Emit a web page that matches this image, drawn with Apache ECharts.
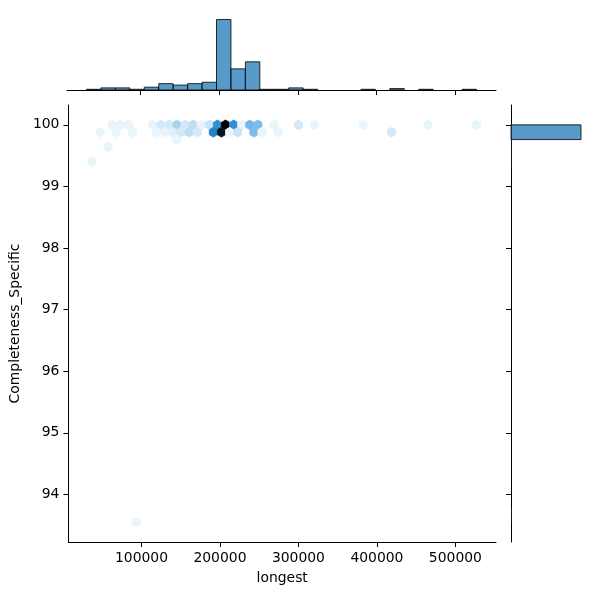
<!DOCTYPE html>
<html><head><meta charset="utf-8">
<script src="https://cdn.jsdelivr.net/npm/echarts@6/dist/echarts.min.js"></script>
<style>html,body{margin:0;padding:0;background:#fff}#c{width:600px;height:600px}</style>
</head><body><div id="c"></div>
<script>
// Hexbin cells (bin centres) and counts
const hexX = [62610, 72930, 83250, 114210, 124530, 134850, 145170, 155490, 165810, 176130, 186450, 196770, 207090, 217410, 227730, 238050, 248370, 269010, 299970, 320610, 382530, 465090, 527000,
  47130, 67770, 88410, 119370, 129690, 140010, 150330, 160650, 170970, 191610, 201930, 212250, 222570, 243210, 253530, 274170, 418650,
  145170, 57450, 36810, 93570];
const hexY = [100, 100, 100, 100, 100, 100, 100, 100, 100, 100, 100, 100, 100, 100, 100, 100, 100, 100, 100, 100, 100, 100, 100,
  99.881, 99.881, 99.881, 99.881, 99.881, 99.881, 99.881, 99.881, 99.881, 99.881, 99.881, 99.881, 99.881, 99.881, 99.881, 99.881, 99.881,
  99.761, 99.642, 99.403, 93.55];
const hexCount = [2, 2, 2, 2, 4, 4, 8, 4, 6, 2, 5, 20, 40, 20, 2, 13, 12, 2, 4, 2, 2, 2, 2,
  2, 2, 2, 2, 2, 3, 4, 6, 4, 22, 37, 2, 5, 12, 2, 2, 4,
  2, 2, 2, 2];

// Marginal histogram of "longest"
const xHistEdges = [31650, 49996, 68343, 86689, 105035, 123382, 141728, 160074, 178421, 196767, 215113, 233460, 251806, 270152, 288499, 306845, 325191, 343538, 361884, 380230, 398577, 416923, 435269, 453616, 471962, 490308, 508655, 527000];
const xHistCounts = [1, 3, 3, 1, 4, 9, 7, 9, 11, 100, 30, 40, 1, 1, 3, 1, 0, 0, 0, 1, 0, 2, 0, 1, 0, 0, 1];

// Marginal histogram of "Completeness_Specific"
const yHistEdges = [93.550, 93.789, 94.028, 94.267, 94.506, 94.744, 94.983, 95.222, 95.461, 95.700, 95.939, 96.178, 96.417, 96.656, 96.894, 97.133, 97.372, 97.611, 97.850, 98.089, 98.328, 98.567, 98.806, 99.044, 99.283, 99.522, 99.761, 100.000];
const yHistCounts = [1, 0, 0, 0, 0, 0, 0, 0, 0, 0, 0, 0, 0, 0, 0, 0, 0, 0, 0, 0, 0, 0, 0, 0, 1, 1, 226];

const xTicks = [100000, 200000, 300000, 400000, 500000];
const yTicks = [94, 95, 96, 97, 98, 99, 100];

const HEX_SX = 10320, HEX_SY = 0.23889;
const FONT = 'DejaVu Sans';
const hexColors = ['#ffffff', '#d7ebf8', '#b0d7f1', '#88c2eb', '#61aee4', '#399add', '#2283c6', '#1b699e', '#144e77', '#0e344f', '#071a28', '#000000'];

const hexData = hexX.map((x, i) => [x, hexY[i], hexCount[i]]);
const xHistData = xHistCounts.map((c, i) => [xHistEdges[i], xHistEdges[i + 1], c]).filter(d => d[2] > 0);
const yHistData = yHistCounts.map((c, i) => [yHistEdges[i], yHistEdges[i + 1], c]).filter(d => d[2] > 0);

const XMIN = 6882.5, XMAX = 551767.5, YMIN = 93.2275, YMAX = 100.3225;
const lineStyle = { color: '#000', width: 1 };
const barFill = 'rgba(31,119,180,0.75)', barEdge = 'rgba(0,0,0,0.8)';

const chart = echarts.init(document.getElementById('c'), null, { renderer: 'canvas' });
chart.setOption({
  animation: false,
  backgroundColor: '#fff',
  textStyle: { fontFamily: FONT },
  grid: [
    { left: 67, top: 105, width: 429, height: 437 },
    { left: 67, top: 16, width: 429, height: 74 },
    { left: 511, top: 105, width: 73.5, height: 437 }
  ],
  xAxis: [
    { type: 'value', gridIndex: 0, min: XMIN, max: XMAX, name: 'longest', nameLocation: 'middle', nameGap: 29,
      nameTextStyle: { fontFamily: FONT, fontSize: 13.9, color: '#000' },
      axisLine: { show: true, onZero: false, lineStyle },
      axisTick: { show: true, length: 5, inside: false, customValues: xTicks, lineStyle },
      axisLabel: { show: true, margin: 9, customValues: xTicks, fontFamily: FONT, fontSize: 13.9, color: '#000', formatter: v => String(v) },
      splitLine: { show: false } },
    { type: 'value', gridIndex: 1, min: XMIN, max: XMAX, position: 'bottom',
      axisLine: { show: true, onZero: false, lineStyle },
      axisTick: { show: true, length: 5, inside: false, customValues: xTicks, lineStyle },
      axisLabel: { show: false }, splitLine: { show: false } },
    { type: 'value', gridIndex: 2, min: 0, max: 237.3, show: false, splitLine: { show: false } }
  ],
  yAxis: [
    { type: 'value', gridIndex: 0, min: YMIN, max: YMAX, name: 'Completeness_Specific', nameLocation: 'middle', nameGap: 40,
      nameTextStyle: { fontFamily: FONT, fontSize: 13.9, color: '#000' },
      axisLine: { show: true, onZero: false, lineStyle },
      axisTick: { show: true, length: 5, inside: false, customValues: yTicks, lineStyle },
      axisLabel: { show: true, margin: 9, customValues: yTicks, fontFamily: FONT, fontSize: 13.9, color: '#000', formatter: v => String(v) },
      splitLine: { show: false } },
    { type: 'value', gridIndex: 1, min: 0, max: 105, show: false, splitLine: { show: false } },
    { type: 'value', gridIndex: 2, min: YMIN, max: YMAX, position: 'left',
      axisLine: { show: true, onZero: false, lineStyle },
      axisTick: { show: true, length: 5, inside: false, customValues: yTicks, lineStyle },
      axisLabel: { show: false }, splitLine: { show: false } }
  ],
  visualMap: [{
    type: 'continuous', show: false, seriesIndex: 0, dimension: 2, min: 0, max: 40,
    inRange: { color: hexColors }
  }],
  series: [
    { type: 'custom', xAxisIndex: 0, yAxisIndex: 0, clip: true, data: hexData,
      renderItem: (params, api) => {
        const c = api.coord([api.value(0), api.value(1)]);
        const s = api.size([HEX_SX, HEX_SY]);
        const w = s[0], h = s[1];
        const pts = [[c[0] + w / 2, c[1] - h / 6], [c[0] + w / 2, c[1] + h / 6], [c[0], c[1] + h / 3],
                     [c[0] - w / 2, c[1] + h / 6], [c[0] - w / 2, c[1] - h / 6], [c[0], c[1] - h / 3]];
        const col = api.visual('color');
        return { type: 'polygon', shape: { points: pts }, style: { fill: col, stroke: col, lineWidth: 0.8 } };
      } },
    { type: 'custom', xAxisIndex: 1, yAxisIndex: 1, data: xHistData,
      renderItem: (params, api) => {
        const p0 = api.coord([api.value(0), api.value(2)]);
        const p1 = api.coord([api.value(1), 0]);
        return { type: 'rect', shape: { x: p0[0], y: p0[1], width: p1[0] - p0[0], height: p1[1] - p0[1] },
                 style: { fill: barFill, stroke: barEdge, lineWidth: 1 } };
      } },
    { type: 'custom', xAxisIndex: 2, yAxisIndex: 2, data: yHistData,
      renderItem: (params, api) => {
        const p0 = api.coord([0, api.value(1)]);
        const p1 = api.coord([api.value(2), api.value(0)]);
        const w = p1[0] - p0[0];
        return { type: 'rect', shape: { x: p0[0], y: p0[1], width: w, height: p1[1] - p0[1] },
                 style: { fill: barFill, stroke: w < 1 ? null : barEdge, lineWidth: 1 } };
      } }
  ]
});
</script></body></html>
